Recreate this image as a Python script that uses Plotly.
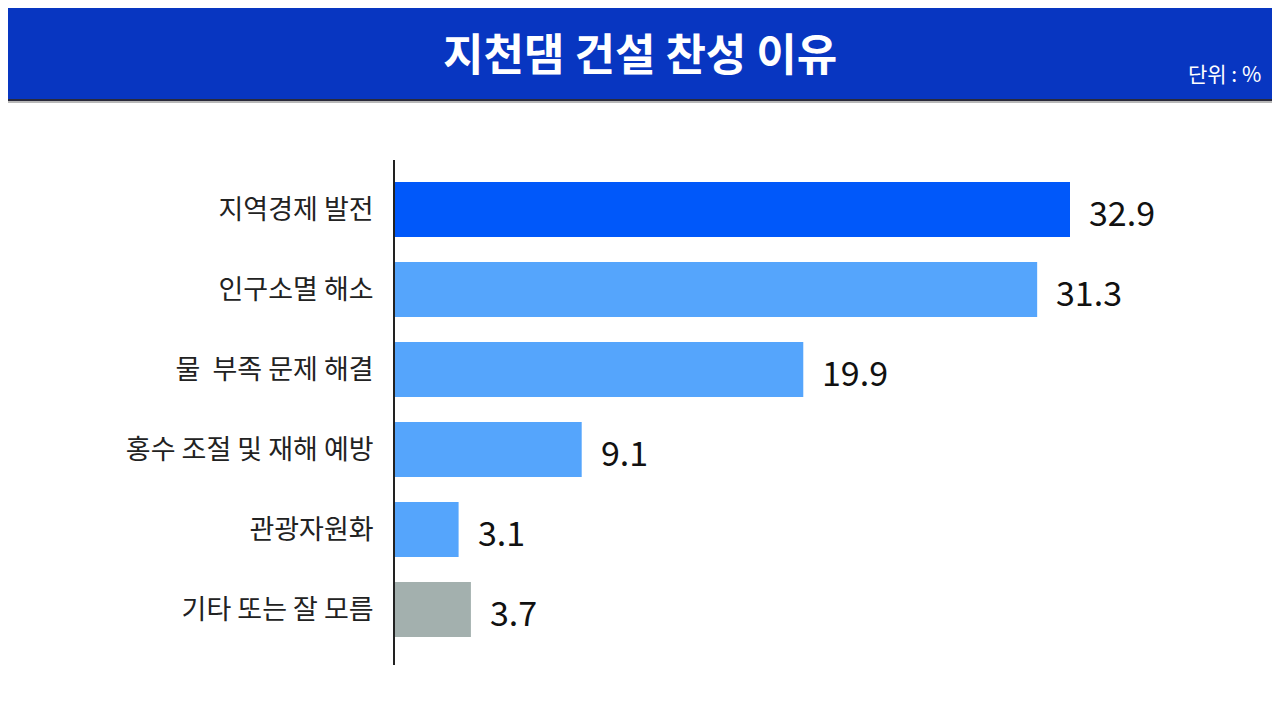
import plotly.graph_objects as go

categories = ["지역경제 발전", "인구소멸 해소", "물  부족 문제 해결", "홍수 조절 및 재해 예방", "관광자원화", "기타 또는 잘 모름"]
values = [32.9, 31.3, 19.9, 9.1, 3.1, 3.7]
bar_colors = ["#0058FA", "#55A5FC", "#55A5FC", "#55A5FC", "#55A5FC", "#A3B0AE"]
value_labels = ["32.9", "31.3", "19.9", "9.1", "3.1", "3.7"]
title_text = "지천댐 건설 찬성 이유"
unit_text = "단위 : %"

OFF = 8  # page body offset
W, H = 1280, 714
ML, MR, MT, MB = 395 - OFF, 30, 160 - OFF, 49 + OFF
pw, ph = W - ML - MR, H - MT - MB

def px_x(p):
    return (p - OFF - ML) / pw

def px_y(p):
    return (H - MB - (p - OFF)) / ph

font = "Noto Sans CJK KR"

fig = go.Figure(go.Bar(
    x=values, y=categories, orientation="h",
    marker=dict(color=bar_colors, line=dict(width=0)),
    hoverinfo="skip",
))

annotations = [
    dict(x=v, y=c, text=t, xref="x", yref="y", xanchor="left", yanchor="middle",
         xshift=17, yshift=-2, showarrow=False,
         font=dict(family=font, size=34, color="#111111"))
    for v, c, t in zip(values, categories, value_labels)
]
annotations += [
    dict(text=f"<b>{title_text}</b>", xref="paper", yref="paper",
         x=px_x(640), y=px_y(52), xanchor="center", yanchor="middle",
         showarrow=False, font=dict(family=font, size=44, color="white")),
    dict(text=unit_text, xref="paper", yref="paper",
         x=px_x(1263), y=px_y(73), xanchor="right", yanchor="middle",
         showarrow=False, font=dict(family=font, size=21, color="white")),
]

fig.update_layout(
    width=W, height=H,
    margin=dict(l=ML, r=MR, t=MT, b=MB),
    paper_bgcolor="white", plot_bgcolor="white",
    bargap=0.3125, showlegend=False,
    font=dict(family=font),
    xaxis=dict(range=[0, pw / (675 / 32.9)], showgrid=False, zeroline=False,
               showticklabels=False, showline=False, fixedrange=True),
    yaxis=dict(autorange=False, range=[5.694, -0.619], showgrid=False, zeroline=False,
               showline=True, linecolor="#222222", linewidth=2,
               ticks="", ticklabelstandoff=14,
               tickfont=dict(family=font, size=27, color="#222222")),
    shapes=[
        dict(type="rect", xref="paper", yref="paper",
             x0=px_x(0), x1=px_x(W + 20), y0=px_y(-20), y1=px_y(100),
             fillcolor="#0836C1", line=dict(color="#2a2a3a", width=2), layer="above"),
        dict(type="line", xref="paper", yref="paper",
             x0=px_x(0), x1=px_x(W + 20), y0=px_y(102), y1=px_y(102),
             line=dict(color="#b8b8b8", width=2)),
    ],
    annotations=annotations,
)

fig.write_html("out.html")
